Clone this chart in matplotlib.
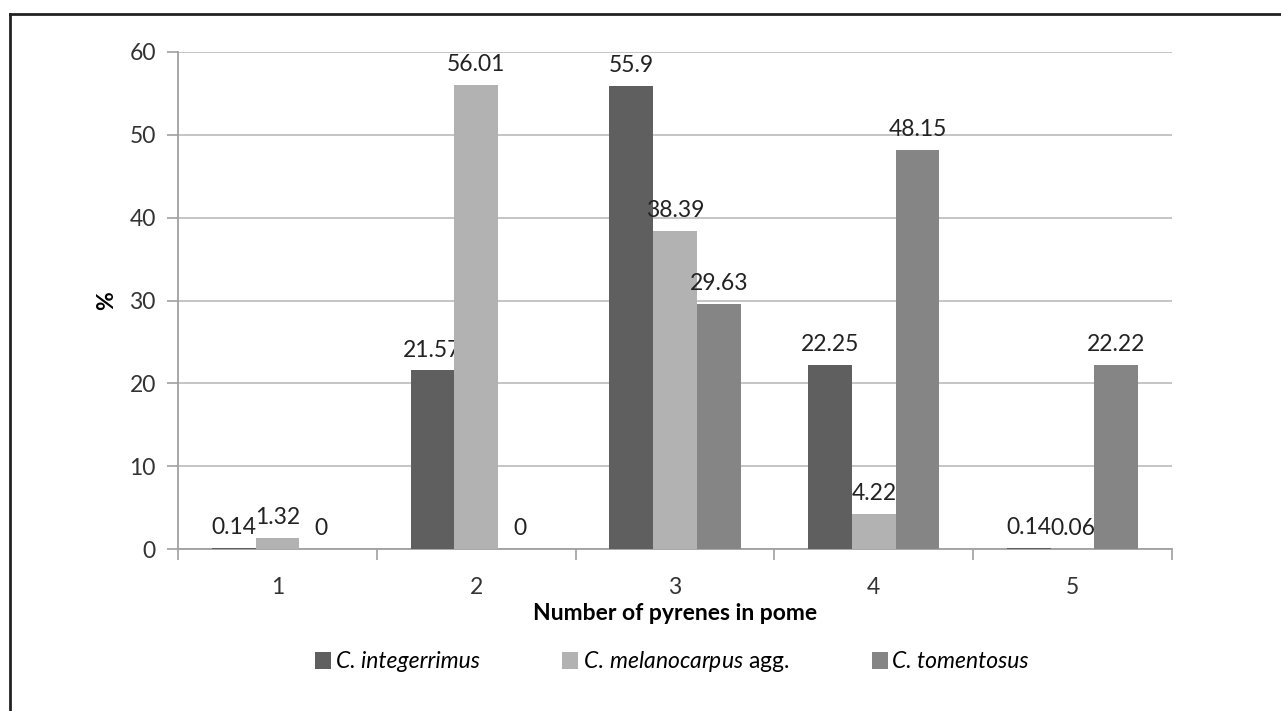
import matplotlib
matplotlib.use("Agg")
import matplotlib.pyplot as plt
import numpy as np
from matplotlib.lines import Line2D

categories = ["1", "2", "3", "4", "5"]
series_names = ["C. integerrimus",
                r"$\mathit{C.\,melanocarpus}$ agg.",
                "C. tomentosus"]
integerrimus = [0.14, 21.57, 55.9, 22.25, 0.14]
melanocarpus = [1.32, 56.01, 38.39, 4.22, 0.06]
tomentosus = [0, 0, 29.63, 48.15, 22.22]
y_ticks = [0, 10, 20, 30, 40, 50, 60]

colors = ["#5f5f5f", "#b2b2b2", "#858585"]

plt.rcParams['font.family'] = ['Lato', 'DejaVu Sans']
plt.rcParams['mathtext.fontset'] = 'custom'
plt.rcParams['mathtext.it'] = 'Lato:italic'
plt.rcParams['mathtext.rm'] = 'Lato'

FS = 16.5
fig = plt.figure(figsize=(12.81, 7.11), dpi=100)
ax = fig.add_axes([178/1281, 1-549/711, (1172-178)/1281, (549-52)/711])

x = np.arange(1, len(categories)+1)
w = 0.22
data = [integerrimus, melanocarpus, tomentosus]
for i, (vals, c, name) in enumerate(zip(data, colors, series_names)):
    pos = x + (i-1)*w
    ax.bar(pos, vals, width=w, color=c, label=name, zorder=3)
    for px, v in zip(pos, vals):
        ax.annotate(f"{v:g}", (px, v), xytext=(0, 7), textcoords="offset points",
                    ha="center", va="bottom", fontsize=FS, color="#222222")

ax.set_xlim(0.5, len(categories)+0.5)
ax.set_ylim(0, 60)
ax.set_yticks(y_ticks)
ax.set_xticks(x)
ax.set_xticklabels(categories)
ax.set_xticks(np.arange(0.5, len(categories)+1, 1), minor=True)
ax.tick_params(axis='x', which='major', length=0, pad=20, labelsize=FS, labelcolor="#333333")
ax.tick_params(axis='x', which='minor', length=8, color="#a0a0a0", width=1.2)
ax.tick_params(axis='y', length=8, color="#a0a0a0", width=1.2, labelsize=FS, labelcolor="#333333", pad=8)
ax.grid(axis='y', color="#c0c0c0", linewidth=1.3, zorder=0)
for s in ["top", "right"]:
    ax.spines[s].set_visible(False)
for s in ["left", "bottom"]:
    ax.spines[s].set_color("#a0a0a0")
    ax.spines[s].set_linewidth(1.3)

ax.set_xlabel("Number of pyrenes in pome", fontsize=FS, fontweight="bold", labelpad=4)
ax.set_ylabel("%", fontsize=FS, fontweight="bold", labelpad=9)

leg = fig.legend(loc="center", bbox_to_anchor=(672/1281, 1-662/711), ncol=3, frameon=False,
                 fontsize=FS, handlelength=0.7, handleheight=0.7, handletextpad=0.2,
                 columnspacing=3.6)
leg.get_texts()[0].set_fontstyle('italic')
leg.get_texts()[2].set_fontstyle('italic')

fig.add_artist(Line2D([10/1281, 10/1281], [0, 1-14/711], color="#222222", linewidth=2, transform=fig.transFigure))
fig.add_artist(Line2D([10/1281, 1], [1-14/711, 1-14/711], color="#222222", linewidth=2, transform=fig.transFigure))

fig.savefig("out.png", dpi=100)
